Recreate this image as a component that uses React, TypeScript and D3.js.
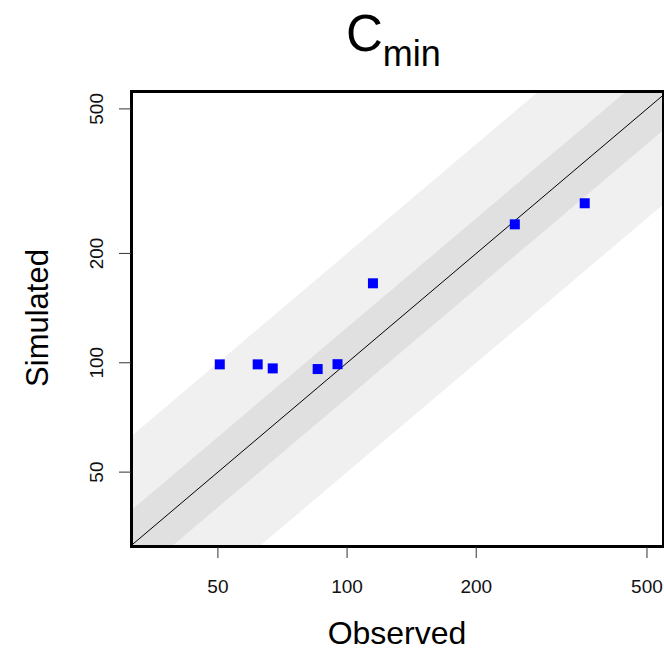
import { scaleLog, line } from 'd3'

// observed vs simulated Cmin
const observed = [50.5, 61.9, 67.1, 85.4, 95.0, 114.9, 246, 358]
const simulated = [99.0, 99.0, 96.5, 96.1, 99.1, 165.5, 240.5, 274.9]
const xTicks = [50, 100, 200, 500]
const yTicks = [50, 100, 200, 500]
const foldBands = [2, 1.25]
const bandColors = ['#f0f0f0', '#e0e0e0']

const width = 664
const height = 650
const left = 133
const right = 662
const top = 93
const bottom = 545

const x = scaleLog().domain([31.7, 542]).range([left, right])
const y = scaleLog().domain([31.5, 553]).range([bottom, top])

const lo = 20
const hi = 1000

const font = 'Liberation Sans, Arial, sans-serif'

function App() {
  const path = line<[number, number]>()
    .x((d) => x(d[0]))
    .y((d) => y(d[1]))

  const band = (f: number) =>
    path([
      [lo, lo * f],
      [hi, hi * f],
      [hi, hi / f],
      [lo, lo / f],
    ]) + 'Z'

  return (
    <svg
      width={width}
      height={height}
      style={{ position: 'absolute', left: 0, top: 0, background: '#fff' }}
    >
      <defs>
        <clipPath id="plot">
          <rect x={left} y={top} width={right - left} height={bottom - top} />
        </clipPath>
      </defs>

      <g clipPath="url(#plot)">
        {foldBands.map((f, i) => (
          <path key={f} d={band(f)} fill={bandColors[i]} />
        ))}
        <path
          d={path([[lo, lo], [hi, hi]]) ?? ''}
          stroke="#000"
          strokeWidth={1}
          fill="none"
        />
        {observed.map((o, i) => (
          <rect
            key={i}
            x={x(o) - 5}
            y={y(simulated[i]) - 5}
            width={10}
            height={10}
            fill="#0000ff"
          />
        ))}
      </g>

      <rect
        x={left - 1.5}
        y={top - 1.5}
        width={right - left + 3}
        height={bottom - top + 3}
        fill="none"
        stroke="#000"
        strokeWidth={3}
      />

      {/* x axis */}
      {xTicks.map((t) => (
        <g key={t}>
          <line x1={x(t)} x2={x(t)} y1={bottom + 2} y2={bottom + 13} stroke="#333" />
          <text
            x={x(t)}
            y={593}
            textAnchor="middle"
            fontFamily={font}
            fontSize={19}
            fill="#111"
          >
            {t}
          </text>
        </g>
      ))}

      {/* y axis */}
      {yTicks.map((t) => (
        <g key={t}>
          <line x1={left - 14} x2={left - 2} y1={y(t)} y2={y(t)} stroke="#333" />
          <text
            transform={`translate(103,${y(t)}) rotate(-90)`}
            textAnchor="middle"
            fontFamily={font}
            fontSize={19}
            fill="#111"
          >
            {t}
          </text>
        </g>
      ))}

      <text
        x={397}
        y={644}
        textAnchor="middle"
        fontFamily={font}
        fontSize={32}
        fill="#000"
      >
        Observed
      </text>
      <text
        transform="translate(48,318) rotate(-90)"
        textAnchor="middle"
        fontFamily={font}
        fontSize={31}
        fill="#000"
      >
        Simulated
      </text>

      <text x={346} y={51} fontFamily={font} fontSize={51} fill="#000">
        C
        <tspan fontSize={36} dy={15}>
          min
        </tspan>
      </text>
    </svg>
  )
}

export default App
